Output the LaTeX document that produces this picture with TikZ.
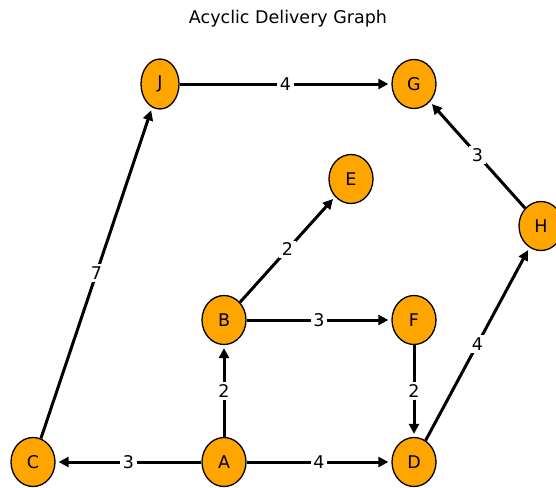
\documentclass[tikz,border=0pt]{standalone}
\usepackage{fontspec}
\setmainfont{DejaVu Sans}
\usetikzlibrary{arrows.meta,shapes.geometric}
\definecolor{nodeorange}{HTML}{FFA500}

\begin{document}
\begin{tikzpicture}[x=1pt, y=-1pt,
    font=\fontsize{17.5}{20}\selectfont,
    stop/.style={ellipse, draw=black, line width=1.3pt, fill=nodeorange,
      inner sep=0pt, minimum width=44pt, minimum height=49pt},
    route/.style={line width=3pt, -{Triangle[length=10pt,width=10pt]},
      shorten >=3pt},
    cost/.style={midway, fill=white, inner sep=2.5pt}]
      \useasboundingbox (0, 0) rectangle (556, 487);

      \node (title) at (288, 19) {Acyclic Delivery Graph};

      \node[stop, minimum width=38pt, minimum height=50pt] (J) at (160, 84) {J};
      \node[stop] (G) at (414, 84) {G};
      \node[stop] (E) at (351, 179) {E};
      \node[stop] (H) at (541, 226) {H};
      \node[stop] (B) at (224, 320) {B};
      \node[stop] (F) at (414, 320) {F};
      \node[stop] (C) at (33, 462) {C};
      \node[stop] (A) at (224, 462) {A};
      \node[stop] (D) at (414, 462) {D};

      \draw[route] (A) -- (B) node[cost] {2};
      \draw[route] (A) -- (C) node[cost] {3};
      \draw[route] (A) -- (D) node[cost] {4};
      \draw[route] (B) -- (E) node[cost] {2};
      \draw[route] (B) -- (F) node[cost] {3};
      \draw[route] (F) -- (D) node[cost] {2};
      \draw[route] (D) -- (H) node[cost] {4};
      \draw[route] (H) -- (G) node[cost] {3};
      \draw[route] (C) -- (J) node[cost] {7};
      \draw[route] (J) -- (G) node[cost] {4};
    \end{tikzpicture}
\end{document}
